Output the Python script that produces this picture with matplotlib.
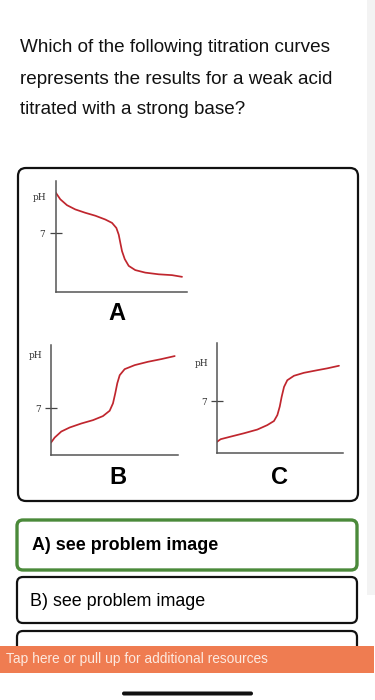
import matplotlib.pyplot as plt
from matplotlib.patches import FancyBboxPatch, Rectangle

W, H = 375, 700

question = ["Which of the following titration curves",
            "represents the results for a weak acid",
            "titrated with a strong base?"]
options = ["A) see problem image", "B) see problem image"]
footer = "Tap here or pull up for additional resources"
curve_names = ["A", "B", "C"]

# curves: (volume fraction, pH)
vol_a = [0, 0.035, 0.086, 0.149, 0.225, 0.302, 0.378, 0.429, 0.462, 0.480,
         0.492, 0.505, 0.526, 0.556, 0.606, 0.682, 0.784, 0.886, 0.962]
ph_a = [11.8, 11.0, 10.3, 9.8, 9.4, 9.05, 8.6, 8.2, 7.6, 6.8,
        5.85, 4.85, 3.9, 3.1, 2.6, 2.3, 2.1, 2.0, 1.8]

vol_b = [0, 0.029, 0.081, 0.147, 0.239, 0.331, 0.409, 0.462, 0.488, 0.506,
         0.522, 0.541, 0.580, 0.659, 0.764, 0.869, 0.974]
ph_b = [1.85, 2.6, 3.5, 4.1, 4.7, 5.2, 5.8, 6.6, 7.7, 9.2,
        10.7, 11.9, 12.8, 13.4, 13.9, 14.3, 14.75]

vol_c = [0, 0.029, 0.109, 0.214, 0.320, 0.399, 0.452, 0.479, 0.498, 0.513,
         0.532, 0.558, 0.611, 0.690, 0.796, 0.875, 0.968]
ph_c = [1.55, 1.9, 2.25, 2.7, 3.2, 3.8, 4.35, 5.15, 6.3, 7.6,
        8.95, 9.85, 10.45, 10.85, 11.2, 11.45, 11.8]

fig = plt.figure(figsize=(W / 100, H / 100), dpi=100)
bg = fig.add_axes([0, 0, 1, 1])
bg.set_xlim(0, W)
bg.set_ylim(H, 0)
bg.axis("off")

sans = ["Liberation Sans", "DejaVu Sans"]

# question text
for i, line in enumerate(question):
    bg.text(20, 48 + i * 31, line, fontsize=13.6, family=sans, va="center", color="#111111")

# scrollbar strip on the right
bg.add_patch(Rectangle((367, 0), 8, 595, color="#f3f3f3", lw=0))

# picture frame
bg.add_patch(FancyBboxPatch((18, 168), 340, 333, boxstyle="round,pad=0,rounding_size=8",
                            fc="white", ec="#111111", lw=1.6))

# answer boxes
bg.add_patch(FancyBboxPatch((17, 520), 340, 50, boxstyle="round,pad=0,rounding_size=6",
                            fc="white", ec="#4b8a3a", lw=2.4))
bg.text(32, 546, options[0], fontsize=12.9, family=sans, weight="bold", va="center")
bg.add_patch(FancyBboxPatch((17, 577), 340, 46, boxstyle="round,pad=0,rounding_size=6",
                            fc="white", ec="#111111", lw=1.6))
bg.text(30, 601, options[1], fontsize=12.9, family=sans, va="center")
bg.add_patch(FancyBboxPatch((17, 631), 340, 40, boxstyle="round,pad=0,rounding_size=6",
                            fc="white", ec="#111111", lw=1.6))

# orange resources bar
bg.add_patch(Rectangle((0, 646), 374, 27, color="#ef7c51", lw=0, zorder=5))
bg.text(6, 659.5, footer, fontsize=9.95, family=sans, color="#fde9df", va="center", zorder=6)

# home indicator
bg.add_patch(FancyBboxPatch((122, 691.5), 131, 4, boxstyle="round,pad=0,rounding_size=2",
                            fc="#111111", ec="none", zorder=6))

# curve labels
bg.text(117, 313, curve_names[0], fontsize=17, family=sans, weight="bold", ha="center", va="center")
bg.text(118, 478, curve_names[1], fontsize=17, family=sans, weight="bold", ha="center", va="center")
bg.text(280, 478, curve_names[2], fontsize=17, family=sans, weight="bold", ha="center", va="center")


def px_axes(x0, y0, x1, y1):
    return fig.add_axes([x0 / W, 1 - y1 / H, (x1 - x0) / W, (y1 - y0) / H])


def draw_curve(ax, vol, ph, ytop, label_y):
    ax.plot(vol, ph, color="#c0262e", lw=1.25, solid_capstyle="round", solid_joinstyle="round")
    ax.set_xlim(0, 1)
    ax.set_ylim(0, ytop)
    ax.patch.set_alpha(0)
    for s in ["top", "right"]:
        ax.spines[s].set_visible(False)
    for s in ["left", "bottom"]:
        ax.spines[s].set_color("#555555")
        ax.spines[s].set_linewidth(1.1)
    ax.set_xticks([])
    ax.set_yticks([7])
    ax.set_yticklabels(["7"], family="DejaVu Serif", fontsize=6.5, color="#333333")
    ax.tick_params(axis="y", direction="inout", length=9, width=0.9, color="#444444", pad=3)
    ax.text(-0.12, label_y, "pH", transform=ax.transAxes, family="DejaVu Serif",
            fontsize=6.5, color="#333333", ha="center", va="center")


ax_a = px_axes(55.7, 181, 187, 292)
draw_curve(ax_a, vol_a, ph_a, 13.17, 0.85)

ax_b = px_axes(51, 345, 178, 455)
draw_curve(ax_b, vol_b, ph_b, 16.4, 0.90)

ax_c = px_axes(217, 343.5, 343, 453.3)
draw_curve(ax_c, vol_c, ph_c, 14.8, 0.82)

fig.savefig("out.png", dpi=100)
